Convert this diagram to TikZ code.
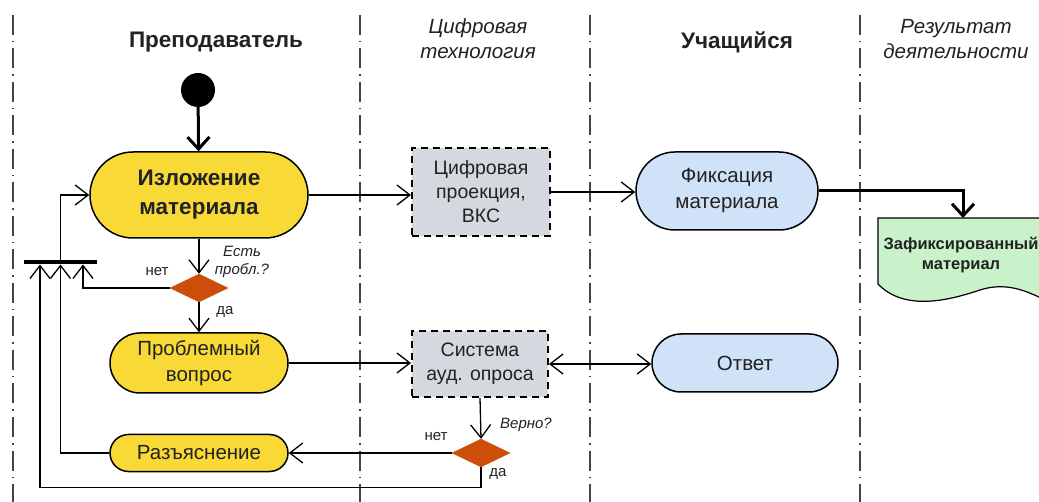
\documentclass[tikz,border=0pt]{standalone}
\usepackage{fontspec}
\setmainfont{Liberation Sans}
\usetikzlibrary{arrows.meta,shapes.geometric,shapes.misc}
\definecolor{ylw}{HTML}{F8D936}
\definecolor{org}{HTML}{CC4E0A}
\definecolor{gry}{HTML}{D5D8DE}
\definecolor{blu}{HTML}{CFE2F8}
\definecolor{grn}{HTML}{C9F2CB}
\definecolor{txt}{HTML}{222222}
\definecolor{lane}{HTML}{444444}
\tikzset{
  lanesep/.style={lane, line width=1.3pt, dash pattern=on 20pt off 6pt on 1.5pt off 6pt},
  pill/.style={rounded rectangle, draw=black, line width=1.5pt, align=center, text=txt, inner sep=0pt},
  techbox/.style={rectangle, draw=black, line width=2pt, dash pattern=on 7pt off 5pt, fill=gry, align=center, text=txt, font=\fontsize{19.5}{24}\selectfont, inner sep=0pt},
  decision/.style={diamond, fill=org, draw=org, inner sep=0pt, minimum width=58pt, minimum height=28pt},
  tipv/.tip={Straight Barb[length=13pt,width=20pt,line width=1.3pt]},
  arr/.style={line width=1.3pt, -tipv},
  darr/.style={line width=1.3pt, tipv-tipv},
  thickarr/.style={line width=3pt, -{Straight Barb[length=12pt,width=22pt,line width=3pt]}},
  header/.style={text=txt, align=center, font=\bfseries\fontsize{22.5}{26}\selectfont},
  iheader/.style={text=txt, align=center, font=\itshape\fontsize{20.5}{25}\selectfont},
  small/.style={text=txt, font=\fontsize{15}{18}\selectfont, align=center},
  ismall/.style={text=txt, font=\itshape\fontsize{15}{18}\selectfont, align=center},
}
\begin{document}
\begin{tikzpicture}[x=1pt,y=-1pt]
\useasboundingbox[fill=white] (0,0) rectangle (1039,502);
\begin{scope}
\clip (0,0) rectangle (1039,502);
% lane separators
\draw[lanesep] (13,15) -- (13,502);
\draw[lanesep] (360,15) -- (360,502);
\draw[lanesep] (590,15) -- (590,502);
\draw[lanesep] (860,15) -- (860,502);

% headers
\node[header] (h1) at (216,42) {Преподаватель};
\node[iheader] (h2) at (478,39) {Цифровая\\технология};
\node[header] (h3) at (737,42) {Учащийся};
\node[iheader] (h4) at (956,39) {Результат\\деятельности};

% nodes
\node[circle, fill=black, minimum size=34pt, inner sep=0pt] (start) at (198,90) {};
\node[pill, fill=ylw, minimum width=218pt, minimum height=86pt, font=\bfseries\fontsize{22.5}{29}\selectfont] (izl) at (199,195) {Изложение\\материала};
\node[techbox, minimum width=138pt, minimum height=88pt] (cif) at (481,192) {Цифровая\\проекция,\\ВКС};
\node[pill, fill=blu, minimum width=182pt, minimum height=78pt, font=\fontsize{20.5}{26}\selectfont] (fix) at (727,191) {Фиксация\\материала};

\coordinate (doctop) at (963,218);
\fill[grn] (878,218) -- (1045,218) -- (1045,300) .. controls (1025,290) and (1005,282) .. (980,290) .. controls (950,300) and (905,312) .. (878,284) -- cycle;
\draw[line width=1.2pt] (1045,218) -- (878,218) -- (878,284) .. controls (905,312) and (950,300) .. (980,290) .. controls (1005,282) and (1025,290) .. (1045,300);
\node[text=txt, align=center, font=\bfseries\fontsize{16.5}{20}\selectfont] (doc) at (961,255) {Зафиксированный\\материал};

\node[decision] (d1) at (199,288) {};
\node[pill, fill=ylw, minimum width=178pt, minimum height=60pt, font=\fontsize{20.5}{26}\selectfont] (prob) at (199,363) {Проблемный\\вопрос};
\node[techbox, minimum width=136pt, minimum height=66pt] (sys) at (480,364) {Система\\ауд. опроса};
\node[pill, fill=blu, minimum width=186pt, minimum height=58pt, font=\fontsize{20.5}{26}\selectfont] (otv) at (745,363) {Ответ};

\node[decision] (d2) at (481,453) {};
\node[pill, fill=ylw, minimum width=178pt, minimum height=37pt, font=\fontsize{20.5}{26}\selectfont] (razj) at (199,453) {Разъяснение};

\node[fill=black, minimum width=73pt, minimum height=4.5pt, inner sep=0pt] (bar) at (60.5,262) {};

% labels
\node[ismall] (l1) at (242,262) {Есть\\пробл.?};
\node[small] (l2) at (157,272) {нет};
\node[small] (l3) at (225,312) {да};
\node[ismall] (l4) at (526,425) {Верно?};
\node[small] (l5) at (436,437) {нет};
\node[small] (l6) at (498,474) {да};

% connectors
\draw[thickarr] (start) -- (izl);
\draw[arr] (izl.east) -- (izl.east -| cif.west);
\draw[arr] (cif.east) -- (cif.east -| fix.west);
\draw[thickarr] (fix.east) -| (doctop);
\draw[arr] (izl.south) -- (d1.north);
\draw[arr] (d1.south) -- (prob.north);
\draw[arr] (d1.west) -| ([xshift=22.5pt]bar.south);
\draw[arr] (bar.north) |- (izl.west);
\draw[arr] (prob.east) -- (prob.east -| sys.west);
\draw[darr] (sys.east) -- (sys.east -| otv.west);
\draw[arr] (sys.south) -- (d2.north);
\draw[arr] (d2.west) -- (razj.east);
\draw[arr] (razj.west) -| (bar.south);
\draw[arr] (d2.south) -- ++(0,20) -| ([xshift=-20.5pt]bar.south);
\end{scope}
\end{tikzpicture}
\end{document}
